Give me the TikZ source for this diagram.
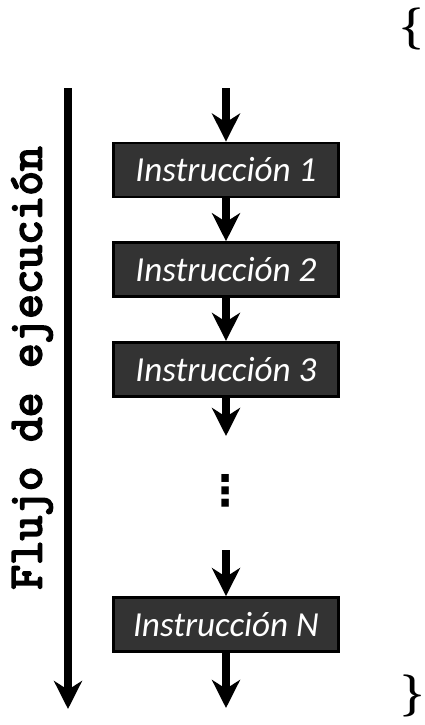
\documentclass[tikz,border=0pt]{standalone}
\usepackage{fontspec}
\usetikzlibrary{arrows.meta, positioning}
\newfontfamily\instrfont{Carlito}
\newfontfamily\flujofont{Latin Modern Mono}[FakeBold=4]
\newfontfamily\dotsfont{DejaVu Sans}

\begin{document}
\begin{tikzpicture}[
    x=0.025cm, y=-0.025cm,
    flow/.style={-{Stealth[length=0.7cm, width=0.7cm, inset=0.22cm]}, line width=0.18cm, black},
    instr/.style={draw=black, line width=2pt, fill=black!80, text=white,
        minimum width=5.62cm, minimum height=1.35cm, inner sep=0pt,
        font=\instrfont\itshape\fontsize{25}{28}\selectfont},
]
\useasboundingbox (0,0) rectangle (424,725);

% --- bloque de instrucciones ---
\node[instr] (i1) at (226,170) {Instrucción 1};
\node[instr, below=1.07cm of i1] (i2) {Instrucción 2};
\node[instr, below=1.07cm of i2] (i3) {Instrucción 3};
\node[font=\dotsfont\bfseries\fontsize{30}{30}\selectfont, inner sep=0pt] (dots) at (226,491) {⋮};
\node[instr] (iN) at (226,624.5) {Instrucción N};

% extremos libres de las flechas
\coordinate (in) at (226,88);
\coordinate (afterThree) at (226,436);
\coordinate (beforeN) at (226,550);
\coordinate (out) at (226,708);

\draw[flow] (in) -- (i1);
\draw[flow] (i1) -- (i2);
\draw[flow] (i2) -- (i3);
\draw[flow] (i3) -- (afterThree);
\draw[flow] (beforeN) -- (iN);
\draw[flow] (iN) -- (out);

% --- flujo de ejecucion ---
\coordinate (flowTop) at (68,88);
\coordinate (flowEnd) at (68,709);
\draw[flow] (flowTop) -- (flowEnd);
\node[rotate=90, font=\flujofont\fontsize{34}{34}\selectfont, inner sep=0pt] (flujo) at (32,368) {Flujo de ejecución};

% llaves del bloque
\node[font=\bfseries\fontsize{30}{30}\selectfont, inner sep=0pt] (open) at (412,29) {\{};
\node[font=\bfseries\fontsize{30}{30}\selectfont, inner sep=0pt] (close) at (413,696) {\}};

\end{tikzpicture}
\end{document}
